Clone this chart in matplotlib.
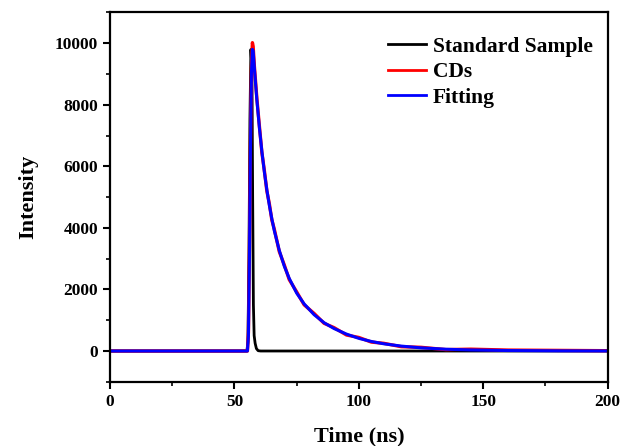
import numpy as np
import matplotlib
matplotlib.use("Agg")
import matplotlib.pyplot as plt
from matplotlib.ticker import MultipleLocator

plt.rcParams['font.family'] = ['Liberation Serif', 'DejaVu Serif']
plt.rcParams['font.weight'] = 'bold'

# standard sample (instrument response)
t_std = [0, 55.0, 55.4, 55.8, 56.2, 56.6, 57.0, 57.3, 57.6, 57.9, 58.3, 58.8, 59.5, 60.5, 200]
i_std = [0, 0, 300, 3000, 7500, 9800, 9200, 5000, 1500, 500, 250, 80, 10, 0, 0]

# time grid for the CDs decay and its fit
t_dec = [0, 55.2, 55.6, 56.0, 56.4, 56.8, 57.2, 57.5, 58, 59, 60, 61, 62, 63, 64,
         65, 66, 68, 70, 72, 75, 78, 82, 86, 90, 95, 100, 105, 110, 117, 125,
         135, 145, 160, 180, 200]

# CDs decay (measured, a little noisy)
i_cds = [0, 0, 600, 3200, 6700, 9200, 10020, 9900, 9250, 8200, 7320, 6450, 5870,
         5200, 4790, 4260, 3960, 3230, 2800, 2320, 1920, 1500, 1220, 900, 760,
         520, 440, 290, 250, 140, 120, 45, 60, 30, 20, 10]

# fitting curve
i_fit = [0, 0, 500, 3000, 6500, 9000, 9800, 9750, 9180, 8150, 7260, 6490, 5820,
         5240, 4740, 4300, 3910, 3270, 2760, 2360, 1880, 1530, 1180, 920, 730,
         550, 410, 310, 234, 160, 102, 58, 34, 15, 5, 2]

fig = plt.figure(figsize=(6.22, 4.46), dpi=100)
ax = fig.add_axes([0.177, 0.144, 0.8, 0.828])

ax.plot(t_std, i_std, color='black', lw=2.0, label='Standard Sample')
ax.plot(t_dec, i_cds, color='red', lw=2.4, label='CDs')
ax.plot(t_dec, i_fit, color='blue', lw=2.2, label='Fitting')

ax.set_xlim(0, 200)
ax.set_ylim(-1000, 11000)
ax.xaxis.set_major_locator(MultipleLocator(50))
ax.xaxis.set_minor_locator(MultipleLocator(25))
ax.yaxis.set_major_locator(MultipleLocator(2000))
ax.yaxis.set_minor_locator(MultipleLocator(1000))
ax.tick_params(which='major', length=5, width=1.5, labelsize=12.5, direction='out')
ax.tick_params(which='minor', length=3, width=1.2, direction='out')
ax.tick_params(top=False, right=False, which='both')
for s in ax.spines.values():
    s.set_linewidth(1.6)

ax.set_xlabel('Time (ns)', fontsize=16, fontweight='bold', labelpad=12)
ax.set_ylabel('Intensity', fontsize=16, fontweight='bold', labelpad=12)

leg = ax.legend(loc='upper right', bbox_to_anchor=(1.0, 0.975), frameon=False,
                fontsize=15.5, handlelength=1.8, handletextpad=0.3,
                labelspacing=0.25, borderaxespad=0.3)
for line in leg.get_lines():
    line.set_linewidth(2.0)

fig.savefig('out.png', dpi=100)
